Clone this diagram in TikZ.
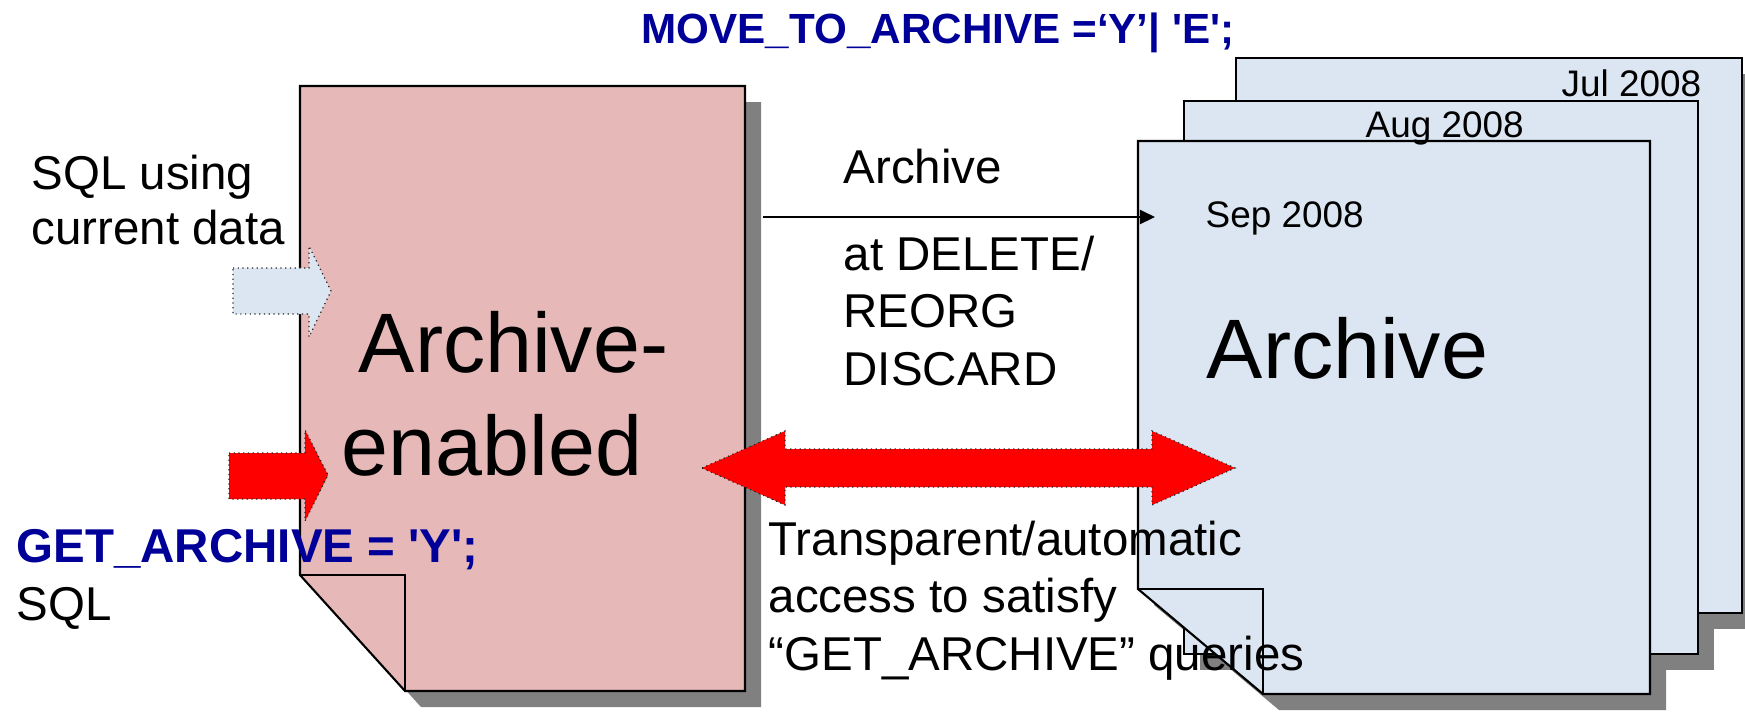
\documentclass[tikz,border=0pt]{standalone}
\usepackage{fontspec}
\setmainfont{Liberation Sans}
\usetikzlibrary{arrows.meta}

\definecolor{docpink}{RGB}{230,185,184}
\definecolor{docblue}{RGB}{220,230,242}
\definecolor{shadowgray}{RGB}{128,128,128}
\definecolor{sqlblue}{RGB}{0,0,153}
\definecolor{arrowred}{RGB}{255,0,0}

\tikzset{
  pageedge/.style={draw=black, line width=0.6pt, line join=miter},
  pageshadow/.style={fill=shadowgray, draw=none},
  blockarrow/.style={draw=black!85, densely dotted, line width=0.35pt},
  flowline/.style={draw=black, line width=0.65pt, -{Triangle[length=4.3pt,width=4pt]}},
  txt/.style={inner sep=0pt, anchor=base west, font=\fontsize{13.5}{16}\selectfont},
  bigtxt/.style={inner sep=0pt, anchor=base west, font=\fontsize{24}{29}\selectfont},
  monthtxt/.style={inner sep=0pt, anchor=base west, font=\fontsize{10.5}{12.5}\selectfont},
  codetxt/.style={inner sep=0pt, anchor=base west, text=sqlblue,
    font=\bfseries\fontsize{13.5}{16}\selectfont},
}

\begin{document}
\begin{tikzpicture}[x=0.01cm, y=-0.01cm]
\useasboundingbox (0,0) rectangle (1745,711);

% ---------- archive-enabled table (folded page) ----------
\path[pageshadow] (316,102) -- (761,102) -- (761,707) -- (421,707) -- (316,591) -- cycle;
\path[pageedge, fill=docpink] (300,86) -- (745,86) -- (745,691) -- (405,691) -- (300,575) -- cycle;
\draw[pageedge] (300,575) -- (405,575) -- (405,691);

% ---------- stack of monthly archive pages ----------
\path[pageshadow] (1252,74) -- (1758,74) -- (1758,629) -- (1252,629) -- cycle;
\path[pageshadow] (1200,117) -- (1714,117) -- (1714,670) -- (1200,670) -- cycle;
\path[pageshadow] (1154,157) -- (1666,157) -- (1666,710) -- (1279,710) -- (1154,605) -- cycle;

\path[pageedge, fill=docblue] (1236,58) -- (1742,58) -- (1742,613) -- (1236,613) -- cycle;
\path[pageedge, fill=docblue] (1184,101) -- (1698,101) -- (1698,654) -- (1184,654) -- cycle;
\path[pageedge, fill=docblue] (1138,141) -- (1650,141) -- (1650,694) -- (1263,694) -- (1138,589) -- cycle;
\draw[pageedge] (1138,589) -- (1263,589) -- (1263,694);

% ---------- archive flow ----------
\coordinate (archfrom) at (763,217);
\coordinate (archto) at (1155,217);
\draw[flowline] (archfrom) -- (archto);

% ---------- block arrows ----------
\path[blockarrow, fill=docblue]
  (233,268) -- (309,268) -- (309,246) -- (331,291) -- (309,337) -- (309,314) -- (233,314) -- cycle;
\path[blockarrow, fill=arrowred]
  (229,453) -- (305,453) -- (305,430) -- (328,475) -- (305,521) -- (305,499) -- (229,499) -- cycle;
\path[blockarrow, fill=arrowred]
  (702,468) -- (785,431) -- (785,449) -- (1152,449) -- (1152,431) -- (1235,468)
  -- (1152,505) -- (1152,487) -- (785,487) -- (785,505) -- cycle;

% ---------- texts ----------
\node[codetxt, font=\bfseries\fontsize{12}{14}\selectfont] (movecmd) at (641,43)
  {MOVE\_TO\_ARCHIVE =‘Y’| \textquotesingle E\textquotesingle;};

\node[txt] (cur1) at (31,189) {SQL using};
\node[txt] (cur2) at (31,244) {current data};

\node[codetxt] (getcmd) at (16,562) {GET\_ARCHIVE = \textquotesingle Y\textquotesingle;};
\node[txt] (getsql) at (16,620) {SQL};

\node[bigtxt] (enab1) at (358,372) {Archive-};
\node[bigtxt] (enab2) at (341,475) {enabled};

\node[txt] (archlbl) at (843,183) {Archive};
\node[txt] (when1) at (843,270) {at DELETE/};
\node[txt] (when2) at (843,327) {REORG};
\node[txt] (when3) at (843,385) {DISCARD};

\node[monthtxt] (jul) at (1561,96) {Jul 2008};
\node[monthtxt] (aug) at (1365,137) {Aug 2008};
\node[monthtxt] (sep) at (1205,227) {Sep 2008};
\node[bigtxt] (archbig) at (1206,378) {Archive};

\node[txt] (acc1) at (768,555) {Transparent/automatic};
\node[txt] (acc2) at (768,612) {access to satisfy};
\node[txt] (acc3) at (768,670) {“GET\_ARCHIVE” queries};
\end{tikzpicture}
\end{document}
